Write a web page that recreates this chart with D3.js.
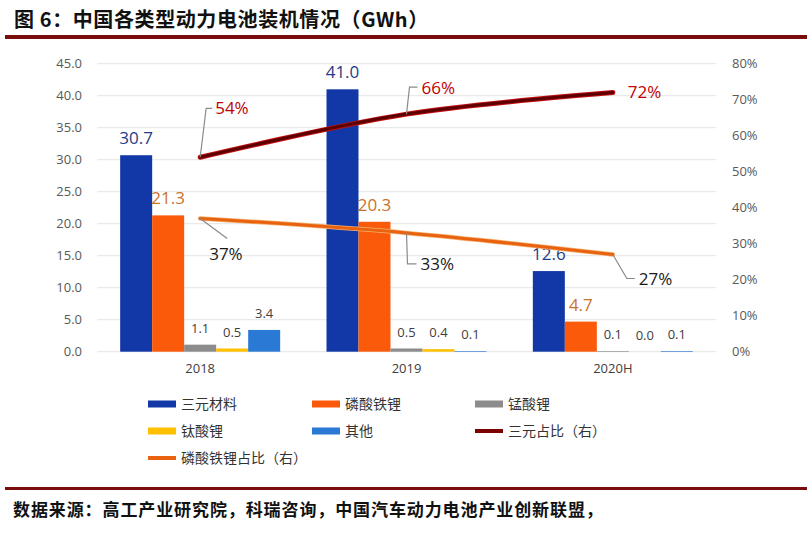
<!DOCTYPE html>
<html><head><meta charset="utf-8">
<script src="https://cdn.jsdelivr.net/npm/d3@7"></script>
<style>
body{margin:0;background:#fff;}
svg{display:block;}
</style></head>
<body>
<svg id="chart" width="812" height="536"></svg>
<script>
// ---- data ----
const categories = ["2018", "2019", "2020H"];
const seriesNames = ["三元材料", "磷酸铁锂", "锰酸锂", "钛酸锂", "其他"];
const ternary = [30.7, 41.0, 12.6];
const lfp = [21.3, 20.3, 4.7];
const lmo = [1.1, 0.5, 0.1];
const lto = [0.5, 0.4, 0.0];
const others = [3.4, 0.1, 0.1];
const ternaryShare = [0.54, 0.66, 0.72];
const lfpShare = [0.37, 0.33, 0.27];
const leftTicks = [0, 5, 10, 15, 20, 25, 30, 35, 40, 45];
const rightTicks = [0, 0.1, 0.2, 0.3, 0.4, 0.5, 0.6, 0.7, 0.8];
const lineNames = ["三元占比（右）", "磷酸铁锂占比（右）"];

const barColors = ["#1238a8", "#fb5a0a", "#8c8c8c", "#ffc000", "#2a79d4"];
const seriesValues = [ternary, lfp, lmo, lto, others];

const svg = d3.select("#chart");
const fontNum = "'Open Sans','Liberation Sans',sans-serif";
const fontCJK = "'Noto Sans CJK SC','Noto Sans',sans-serif";

// title
svg.append("text").attr("x", 14).attr("y", 27)
  .attr("font-family", fontCJK).attr("font-size", 20).attr("font-weight", "bold")
  .attr("letter-spacing", 0.6)
  .attr("fill", "#111").text("图 6：中国各类型动力电池装机情况（GWh）");
svg.append("rect").attr("x", 5).attr("y", 35).attr("width", 802).attr("height", 4).attr("fill", "#7a0c0c");

// scales
const plotL = 97, plotR = 716, plotB = 351.7, plotT = 63.7;
const y = d3.scaleLinear().domain([0, 45]).range([plotB, plotT]);
const yR = d3.scaleLinear().domain([0, 0.8]).range([plotB, plotT]);
const x0 = d3.scaleBand().domain(categories).range([plotL, plotR]).padding(0);
const bw = x0.bandwidth();
const x1 = d3.scaleBand().domain(seriesNames).range([bw / 2 - 80, bw / 2 + 80]).padding(0);

// grid
svg.append("g").selectAll("line").data(leftTicks).join("line")
  .attr("x1", plotL).attr("x2", plotR)
  .attr("y1", d => y(d)).attr("y2", d => y(d))
  .attr("stroke", "#e4e4e4").attr("stroke-width", 1);

// left axis
const axL = svg.append("g").attr("transform", `translate(${plotL - 4},0)`)
  .call(d3.axisLeft(y).tickValues(leftTicks).tickFormat(d3.format(".1f")).tickSize(0).tickPadding(11));
axL.select(".domain").remove();
axL.selectAll("text").attr("font-family", fontNum).attr("font-size", 13).attr("fill", "#595959");

// right axis
const axR = svg.append("g").attr("transform", `translate(${plotR + 4},0)`)
  .call(d3.axisRight(yR).tickValues(rightTicks).tickFormat(d3.format(".0%")).tickSize(0).tickPadding(12));
axR.select(".domain").remove();
axR.selectAll("text").attr("font-family", fontNum).attr("font-size", 13).attr("fill", "#595959");

// x axis labels
const axB = svg.append("g").attr("transform", `translate(0,${plotB})`)
  .call(d3.axisBottom(x0).tickSize(0).tickPadding(12));
axB.select(".domain").remove();
axB.selectAll("text").attr("font-family", fontNum).attr("font-size", 13).attr("fill", "#404040");

// bars
const barData = [];
seriesNames.forEach((s, si) => {
  categories.forEach((c, ci) => {
    barData.push({ s, si, c, v: seriesValues[si][ci] });
  });
});
svg.append("g").selectAll("rect").data(barData).join("rect")
  .attr("x", d => x0(d.c) + x1(d.s))
  .attr("width", x1.bandwidth())
  .attr("y", d => y(d.v))
  .attr("height", d => plotB - y(d.v))
  .attr("fill", d => barColors[d.si]);

// bar labels
const labelColors = ["#1f3c88", "#c8732c", "#404040", "#404040", "#404040"];
svg.append("g").selectAll("text").data(barData).join("text")
  .attr("x", d => x0(d.c) + x1(d.s) + x1.bandwidth() / 2)
  .attr("y", d => y(d.v) - (d.si < 2 ? 11 : 12))
  .attr("text-anchor", "middle")
  .attr("font-family", fontNum)
  .attr("font-size", d => d.si < 2 ? 17 : 13)
  .attr("fill", d => labelColors[d.si])
  .text(d => d.v.toFixed(1));

// lines
const cx = c => x0(c) + bw / 2;
const lineGen = d3.line().x((d, i) => cx(categories[i])).y(d => yR(d)).curve(d3.curveCatmullRom.alpha(0.5));
svg.append("path").datum(lfpShare).attr("d", lineGen)
  .attr("fill", "none").attr("stroke", "#f5b070").attr("stroke-width", 4.5).attr("stroke-linecap", "round");
svg.append("path").datum(lfpShare).attr("d", lineGen)
  .attr("fill", "none").attr("stroke", "#e8620f").attr("stroke-width", 3).attr("stroke-linecap", "round");
svg.append("path").datum(ternaryShare).attr("d", lineGen)
  .attr("fill", "none").attr("stroke", "#c01010").attr("stroke-width", 5).attr("stroke-linecap", "round");
svg.append("path").datum(ternaryShare).attr("d", lineGen)
  .attr("fill", "none").attr("stroke", "#5c0000").attr("stroke-width", 3).attr("stroke-linecap", "round");

// line labels with leaders (offsets relative to point)
const ternaryLabelPos = [{dx: 15, dy: -49, leader: [[0,0],[6,-49],[12,-49]]},
                         {dx: 15, dy: -26, leader: [[0,0],[3,-27],[11,-27]]},
                         {dx: 15, dy: 0, leader: null}];
const lfpLabelPos = [{dx: 9, dy: 36, leader: [[0,0],[27,20]]},
                     {dx: 14, dy: 31, leader: [[0,0],[1,31],[10,31]]},
                     {dx: 26, dy: 25, leader: [[0,0],[14,24],[22,24]]}];
function drawLabels(vals, pos, color) {
  vals.forEach((v, i) => {
    const px = cx(categories[i]), py = yR(v);
    const p = pos[i];
    if (p.leader) {
      svg.append("path").attr("d", d3.line()(p.leader.map(q => [px + q[0], py + q[1]])))
        .attr("fill", "none").attr("stroke", "#8a8a8a").attr("stroke-width", 1.2);
    }
    svg.append("text").attr("x", px + p.dx).attr("y", py + p.dy).attr("dy", "0.35em")
      .attr("font-family", fontNum).attr("font-size", 17).attr("fill", color)
      .text(d3.format(".0%")(v));
  });
}
drawLabels(ternaryShare, ternaryLabelPos, "#c00000");
drawLabels(lfpShare, lfpLabelPos, "#1a1a1a");

// legend
const legendItems = [
  {name: seriesNames[0], color: barColors[0], type: "bar"},
  {name: seriesNames[1], color: barColors[1], type: "bar"},
  {name: seriesNames[2], color: barColors[2], type: "bar"},
  {name: seriesNames[3], color: barColors[3], type: "bar"},
  {name: seriesNames[4], color: barColors[4], type: "bar"},
  {name: lineNames[0], color: "#7a0000", type: "line"},
  {name: lineNames[1], color: "#e8620f", type: "line"}
];
const colX = [148, 312, 475], rowY = [404, 431, 458];
const lg = svg.append("g");
legendItems.forEach((d, i) => {
  const gx = colX[i % 3], gy = rowY[Math.floor(i / 3)];
  if (d.type === "bar") {
    lg.append("rect").attr("x", gx).attr("y", gy - 3.5).attr("width", 28).attr("height", 7).attr("fill", d.color);
  } else {
    lg.append("rect").attr("x", gx).attr("y", gy - 2).attr("width", 28).attr("height", 4).attr("fill", d.color);
  }
  lg.append("text").attr("x", gx + 33).attr("y", gy).attr("dy", "0.36em")
    .attr("font-family", fontCJK).attr("font-size", 14).attr("fill", "#333").text(d.name);
});

// bottom rule and source
svg.append("rect").attr("x", 5).attr("y", 487).attr("width", 802).attr("height", 3).attr("fill", "#7a0c0c");
svg.append("text").attr("x", 13).attr("y", 516)
  .attr("font-family", fontCJK).attr("font-size", 17).attr("font-weight", "bold")
  .attr("letter-spacing", 0.9)
  .attr("fill", "#111").text("数据来源：高工产业研究院，科瑞咨询，中国汽车动力电池产业创新联盟，");
</script>
</body></html>
